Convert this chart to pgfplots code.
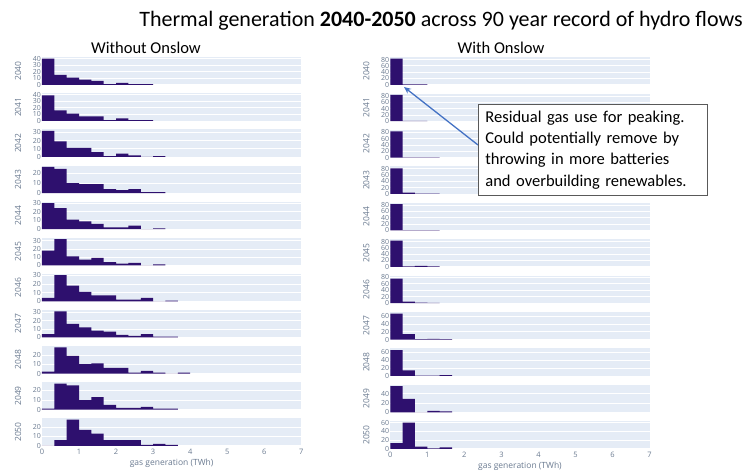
\documentclass[border=0pt]{standalone}
\usepackage{fontspec}
\setmainfont{Open Sans}
\newfontfamily\calib{Carlito}
\usepackage{pgfplots}
\pgfplotsset{compat=1.18}
\usetikzlibrary{arrows.meta}
\definecolor{bgc}{HTML}{E5ECF6}
\definecolor{barc}{RGB}{46,16,110}
\definecolor{tickc}{HTML}{6A7A90}
\definecolor{arrowc}{HTML}{4472C4}
\pgfplotsset{
  panel/.style={
    scale only axis, width=259.3pt, height=27.5pt,
    xmin=0, xmax=7, ymin=0, anchor=north west,
    axis background/.style={fill=bgc},
    axis line style={draw=none},
    ymajorgrids, grid style={white, line width=0.7pt},
    tick style={draw=none},
    xtick={0,1,2,3,4,5,6,7}, xticklabels={},
    /pgf/number format/assume math mode=true,
    yticklabel style={font=\fontsize{7}{7.5}\selectfont, color=tickc, inner sep=1pt},
    xticklabel style={font=\fontsize{7.5}{8}\selectfont, color=tickc},
    every axis y label/.style={at={(axis description cs:0,0.5)}, xshift=-24pt, rotate=90, anchor=center,
      font=\fontsize{8.5}{9}\selectfont, color=tickc},
    clip=false,
  },
  bottom/.style={xticklabels={0,1,2,3,4,5,6,7},
    xlabel={gas generation (TWh)},
    xlabel style={font=\fontsize{8.5}{9}\selectfont, color=tickc, yshift=3pt}},
}
% #1 x, #2 top (y up), #3 ymax, #4 ytick distance, #5 label, #6 coords, #7 extra
\newcommand{\panel}[7]{%
  \begin{axis}[panel, at={(#1pt,#2pt)}, ymax=#3, ytick distance=#4, ylabel={#5}, #7]
    \addplot[ybar interval, fill=barc, draw=none] coordinates {#6};
  \end{axis}}
\begin{document}
\begin{tikzpicture}[x=1pt,y=1pt]
\path[use as bounding box] (0,0) rectangle (748,476);
% titles
\node[font=\calib\fontsize{22}{25}\selectfont, anchor=center] at (441,455) {Thermal generation \textbf{2040-2050} across 90 year record of hydro flows};
\node[font=\calib\fontsize{16.5}{18}\selectfont] at (146,428) {Without Onslow};
\node[font=\calib\fontsize{16.5}{18}\selectfont] at (501,428) {With Onslow};
% left column
\panel{42}{418.7}{42}{10}{2040}{(0,40)(0.3333,15)(0.6667,11)(1,8)(1.3333,6)(1.6667,1)(2,3)(2.3333,1)(2.6667,1)(3,0)}{}
\panel{42}{382.6}{42}{10}{2041}{(0,39)(0.3333,16)(0.6667,11)(1,7)(1.3333,7)(1.6667,1)(2,4)(2.3333,1)(2.6667,1)(3,0)}{}
\panel{42}{346.5}{33.6}{10}{2042}{(0,32)(0.3333,19)(0.6667,11)(1,11)(1.3333,6)(1.6667,1)(2,4)(2.3333,2)(2.6667,0)(3,1)(3.3333,0)}{}
\panel{42}{310.4}{27.3}{10}{2043}{(0,26)(0.3333,24)(0.6667,10)(1,9)(1.3333,9)(1.6667,4)(2,3)(2.3333,4)(2.6667,1)(3,1)(3.3333,0)}{}
\panel{42}{274.3}{31.5}{10}{2044}{(0,30)(0.3333,24)(0.6667,11)(1,9)(1.3333,6)(1.6667,2)(2,2)(2.3333,4)(2.6667,0)(3,1)(3.3333,0)}{}
\panel{42}{238.2}{33.6}{10}{2045}{(0,18)(0.3333,32)(0.6667,11)(1,7)(1.3333,9)(1.6667,4)(2,2)(2.3333,3)(2.6667,0)(3,1)(3.3333,0)}{}
\panel{42}{202.1}{31.5}{10}{2046}{(0,4)(0.3333,30)(0.6667,18)(1,11)(1.3333,7)(1.6667,7)(2,2)(2.3333,2)(2.6667,4)(3,0)(3.3333,1)(3.6667,0)}{}
\panel{42}{166}{32.5}{10}{2047}{(0,4)(0.3333,31)(0.6667,16)(1,12)(1.3333,8)(1.6667,7)(2,3)(2.3333,2)(2.6667,4)(3,1)(3.3333,1)(3.6667,0)}{}
\panel{42}{129.9}{29.4}{10}{2048}{(0,2)(0.3333,28)(0.6667,19)(1,10)(1.3333,11)(1.6667,6)(2,6)(2.3333,1)(2.6667,3)(3,1)(3.3333,0)(3.6667,1)(4,0)}{}
\panel{42}{93.8}{28.4}{10}{2049}{(0,1)(0.3333,27)(0.6667,25)(1,10)(1.3333,13)(1.6667,5)(2,2)(2.3333,2)(2.6667,3)(3,1)(3.3333,1)(3.6667,0)}{}
\panel{42}{57.7}{29.4}{10}{2050}{(0,0)(0.3333,6)(0.6667,28)(1,17)(1.3333,13)(1.6667,6)(2,6)(2.3333,6)(2.6667,1)(3,2)(3.3333,1)(3.6667,0)}{bottom}
% right column
\panel{390.3}{418.7}{87}{20}{2040}{(0,83)(0.3333,1)(0.6667,1)(1,0)}{}
\panel{390.3}{382.3}{87}{20}{2041}{(0,83)(0.3333,1)(0.6667,1)(1,0)}{}
\panel{390.3}{345.9}{87}{20}{2042}{(0,83)(0.3333,1)(0.6667,1)(1,1)(1.3333,0)}{}
\panel{390.3}{309.5}{87}{20}{2043}{(0,81)(0.3333,4)(0.6667,1)(1,1)(1.3333,0)}{}
\panel{390.3}{273.1}{87}{20}{2044}{(0,83)(0.3333,1)(0.6667,1)(1,1)(1.3333,0)}{}
\panel{390.3}{236.7}{87}{20}{2045}{(0,83)(0.3333,1)(0.6667,3)(1,1)(1.3333,0)}{}
\panel{390.3}{200.3}{85}{20}{2046}{(0,76)(0.3333,5)(0.6667,2)(1,1)(1.3333,0)}{}
\panel{390.3}{163.9}{71}{20}{2047}{(0,67)(0.3333,14)(0.6667,1)(1,2)(1.3333,1)(1.6667,0)}{}
\panel{390.3}{127.5}{70}{20}{2048}{(0,66)(0.3333,14)(0.6667,1)(1,1)(1.3333,2)(1.6667,0)}{}
\panel{390.3}{91.1}{58.5}{20}{2049}{(0,56)(0.3333,29)(0.6667,0)(1,3)(1.3333,2)(1.6667,0)}{}
\panel{390.3}{54.7}{63}{20}{2050}{(0,13)(0.3333,60)(0.6667,5)(1,1)(1.3333,3)(1.6667,0)}{bottom}
% annotation
\draw[arrowc, line width=1.3pt, -{Stealth[length=7pt,width=6pt]}] (478,331) -- (404,389);
\node[draw={rgb,255:red,89;green,89;blue,89}, line width=0.8pt, fill=white, anchor=north west,
  minimum width=229pt, minimum height=91pt, inner xsep=7pt, inner ysep=5pt,
  text width=215pt, align=left, font=\calib\fontsize{16.5}{21.2}\selectfont] at (478,372)
  {Residual gas use for peaking.\\Could potentially remove by\\throwing in more batteries\\and overbuilding renewables.};
\end{tikzpicture}
\end{document}
